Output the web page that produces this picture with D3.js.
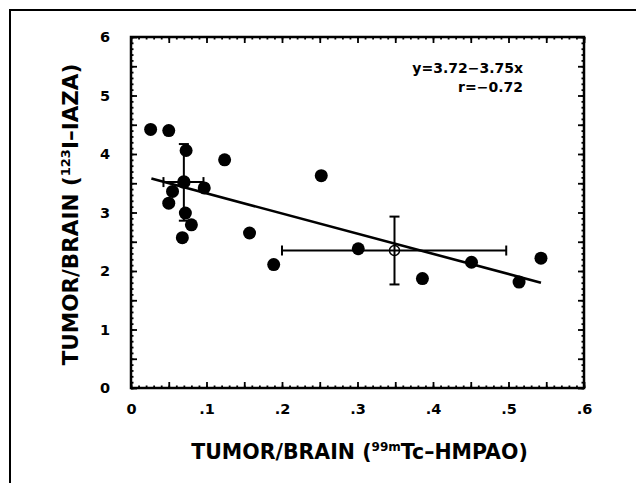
<!DOCTYPE html>
<html>
<head>
<meta charset="utf-8">
<script src="https://cdn.jsdelivr.net/npm/d3@7"></script>
<style>
  body { margin: 0; background: #fff; }
  svg { display: block; }
  text { font-family: "DejaVu Sans", sans-serif; font-weight: bold; fill: #000; }
</style>
</head>
<body>
<svg width="636" height="483"></svg>
<script>
// data
const tumorHmpao = [0.026, 0.050, 0.073, 0.124, 0.252, 0.055, 0.050, 0.097, 0.072, 0.080, 0.068, 0.157, 0.189, 0.301, 0.386, 0.451, 0.514, 0.543];
const tumorIaza  = [4.42, 4.40, 4.06, 3.90, 3.63, 3.36, 3.16, 3.42, 2.99, 2.79, 2.57, 2.65, 2.11, 2.38, 1.87, 2.15, 1.81, 2.22];

// group means with SD bars
const meanX   = [0.070, 0.349];
const meanY   = [3.52, 2.35];
const meanXlo = [0.043, 0.200];
const meanXhi = [0.096, 0.497];
const meanYlo = [2.86, 1.77];
const meanYhi = [4.17, 2.93];
const meanOpen = [false, true];

// regression line end points as drawn
const fitX = [0.027, 0.543];
const fitY = [3.58, 1.80];

const xTicks = [0, 0.1, 0.2, 0.3, 0.4, 0.5, 0.6];
const yTicks = [0, 1, 2, 3, 4, 5, 6];
const equation = "y=3.72\u22123.75x";
const corr = "r=\u22120.72";

const svg = d3.select('svg');
const pL = 131, pR = 584, pT = 37, pB = 388;

const x = d3.scaleLinear().domain([0, 0.6]).range([pL, pR]);
const y = d3.scaleLinear().domain([0, 6]).range([pB, pT]);

// outer frame around figure
svg.append('rect')
    .attr('x', 10).attr('y', 10)
    .attr('width', 650).attr('height', 500)
    .attr('fill', 'none').attr('stroke', '#000').attr('stroke-width', 2);

const minorX = d3.range(0, 61).map(i => i / 100);
const midX = d3.range(0, 13).map(i => i * 0.05);
const minorY = d3.range(0, 61).map(i => i / 10);
const midY = d3.range(0, 13).map(i => i * 0.5);

function tickAxis(axis, pos, values, size) {
    const g = svg.append('g').attr('transform', pos)
        .call(axis.tickValues(values).tickSize(size).tickFormat(''));
    g.select('.domain').remove();
    g.selectAll('line').attr('stroke', '#000').attr('stroke-width', 1.8);
}

// inward ticks on all four sides
tickAxis(d3.axisBottom(x), `translate(0,${pB})`, minorX, -2.5);
tickAxis(d3.axisTop(x), `translate(0,${pT})`, minorX, -2.5);
tickAxis(d3.axisLeft(y), `translate(${pL},0)`, minorY, -2.5);
tickAxis(d3.axisRight(y), `translate(${pR},0)`, minorY, -2.5);
tickAxis(d3.axisBottom(x), `translate(0,${pB})`, midX, -6);
tickAxis(d3.axisTop(x), `translate(0,${pT})`, midX, -6);
tickAxis(d3.axisLeft(y), `translate(${pL},0)`, midY, -6);
tickAxis(d3.axisRight(y), `translate(${pR},0)`, midY, -6);

// frame of plot
svg.append('rect')
    .attr('x', pL).attr('y', pT)
    .attr('width', pR - pL).attr('height', pB - pT)
    .attr('fill', 'none').attr('stroke', '#000').attr('stroke-width', 2.5);

// tick labels
const fmtX = d => d === 0 ? '0' : d3.format('.1f')(d).replace(/^0/, '');
const gx = svg.append('g').attr('transform', `translate(0,${pB})`)
    .call(d3.axisBottom(x).tickValues(xTicks).tickSize(0).tickPadding(16).tickFormat(fmtX));
gx.select('.domain').remove();
gx.selectAll('text').attr('font-size', 14.5).attr('font-family', '"DejaVu Sans", sans-serif').attr('font-weight', 'bold');

const gy = svg.append('g').attr('transform', `translate(${pL},0)`)
    .call(d3.axisLeft(y).tickValues(yTicks).tickSize(0).tickPadding(21).tickFormat(d3.format('d')));
gy.select('.domain').remove();
gy.selectAll('text').attr('font-size', 14.5).attr('font-family', '"DejaVu Sans", sans-serif').attr('font-weight', 'bold');

// regression line
svg.append('line')
    .attr('x1', x(fitX[0])).attr('y1', y(fitY[0]))
    .attr('x2', x(fitX[1])).attr('y2', y(fitY[1]))
    .attr('stroke', '#000').attr('stroke-width', 2.6);

// error bars
const means = meanX.map((d, i) => ({x: d, y: meanY[i], xlo: meanXlo[i], xhi: meanXhi[i], ylo: meanYlo[i], yhi: meanYhi[i], open: meanOpen[i]}));
const eb = svg.append('g').attr('stroke', '#000').attr('stroke-width', 2);
means.forEach(m => {
    eb.append('line').attr('x1', x(m.x)).attr('x2', x(m.x)).attr('y1', y(m.ylo)).attr('y2', y(m.yhi));
    eb.append('line').attr('x1', x(m.xlo)).attr('x2', x(m.xhi)).attr('y1', y(m.y)).attr('y2', y(m.y));
    [m.ylo, m.yhi].forEach(v => eb.append('line')
        .attr('x1', x(m.x) - 5).attr('x2', x(m.x) + 5).attr('y1', y(v)).attr('y2', y(v)));
    [m.xlo, m.xhi].forEach(v => eb.append('line')
        .attr('x1', x(v)).attr('x2', x(v)).attr('y1', y(m.y) - 5).attr('y2', y(m.y) + 5));
});

// points
svg.append('g').selectAll('circle')
    .data(tumorHmpao.map((d, i) => [d, tumorIaza[i]]))
    .enter()
    .append('circle')
    .attr('cx', d => x(d[0]))
    .attr('cy', d => y(d[1]))
    .attr('r', 6.5)
    .attr('fill', '#000');

svg.append('g').selectAll('circle')
    .data(means)
    .enter()
    .append('circle')
    .attr('cx', d => x(d.x))
    .attr('cy', d => y(d.y))
    .attr('r', d => d.open ? 5 : 6)
    .attr('fill', d => d.open ? 'none' : '#000')
    .attr('stroke', '#000')
    .attr('stroke-width', 1.5);

// annotation
svg.append('text').attr('x', 523).attr('y', 73).attr('text-anchor', 'end')
    .attr('font-size', 14).text(equation);
svg.append('text').attr('x', 523).attr('y', 92).attr('text-anchor', 'end')
    .attr('font-size', 14).text(corr);

// axis titles
const xt = svg.append('text')
    .attr('x', (pL + pR) / 2 + 2).attr('y', 459)
    .attr('text-anchor', 'middle').attr('font-size', 20.5);
xt.append('tspan').text('TUMOR/BRAIN (');
xt.append('tspan').attr('font-size', 12).attr('dy', -8).text('99m');
xt.append('tspan').attr('dy', 8).text('Tc\u2013HMPAO)');

const yt = svg.append('text')
    .attr('transform', `translate(78,${(pT + pB) / 2 + 2}) rotate(-90)`)
    .attr('text-anchor', 'middle').attr('font-size', 21.5);
yt.append('tspan').text('TUMOR/BRAIN (');
yt.append('tspan').attr('font-size', 13).attr('dy', -8).text('123');
yt.append('tspan').attr('dy', 8).text('I\u2013IAZA)');
</script>
</body>
</html>
